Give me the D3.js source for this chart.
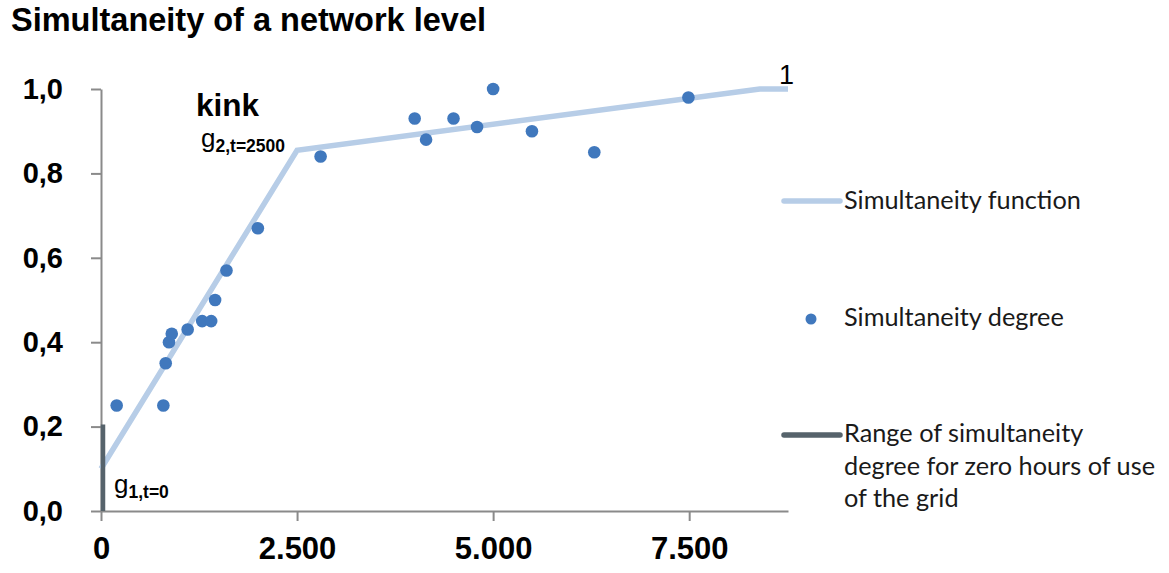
<!DOCTYPE html>
<html><head><meta charset="utf-8">
<script src="https://cdn.jsdelivr.net/npm/d3@7"></script>
<style>
body{margin:0;background:#fff;}
svg{display:block;}
</style></head>
<body>
<svg id="chart" width="1169" height="573"></svg>
<script>
// ---- data ----
const hoursOfUse = [200, 795, 825, 867, 902, 1105, 1290, 1405, 1455, 1600, 2000, 2800, 4000, 4145, 4495, 4795, 5000, 5495, 6290, 7490];
const simultaneityDegree = [0.25, 0.25, 0.35, 0.40, 0.42, 0.43, 0.45, 0.45, 0.50, 0.57, 0.67, 0.84, 0.93, 0.88, 0.93, 0.91, 1.00, 0.90, 0.85, 0.98];
const functionHours = [0, 2500, 8400, 8760];
const functionValues = [0.10, 0.855, 1.0, 1.0];
const zeroRange = [0, 0.205];
const xTicks = [0, 2500, 5000, 7500];
const yTicks = [0, 0.2, 0.4, 0.6, 0.8, 1.0];
const legendLabels = ["Simultaneity function", "Simultaneity degree", "Range of simultaneity|degree for zero hours of use|of the grid"];
const titleText = "Simultaneity of a network level";

const locale = d3.formatLocale({decimal: ",", thousands: ".", grouping: [3], currency: ["", "€"]});
const svg = d3.select("#chart");

const x = d3.scaleLinear().domain([0, 8760]).range([101, 788]);
const y = d3.scaleLinear().domain([0, 1]).range([511, 89]);

const axisColor = "#8a8a8a";
const lineColor = "#b7cde7";
const dotColor = "#4078bd";
const rangeColor = "#56636b";

// title
svg.append("text").attr("x", 11).attr("y", 31)
  .attr("font-family", "Liberation Sans, Arial, sans-serif").attr("font-weight", "bold")
  .attr("font-size", 32.5).attr("fill", "#000").text(titleText);

// y axis
const yAxis = svg.append("g").attr("transform", `translate(${x(0)},0)`)
  .call(d3.axisLeft(y).tickValues(yTicks).tickFormat(locale.format(".1f")).tickSize(10).tickSizeOuter(0).tickPadding(28));
// x axis
const xAxis = svg.append("g").attr("transform", `translate(0,${y(0)})`)
  .call(d3.axisBottom(x).tickValues(xTicks).tickFormat(locale.format(",")).tickSize(10).tickSizeOuter(0).tickPadding(16));

[yAxis, xAxis].forEach(g => {
  g.select(".domain").attr("stroke", axisColor).attr("stroke-width", 2);
  g.selectAll(".tick line").attr("stroke", axisColor).attr("stroke-width", 2);
  g.selectAll(".tick text").attr("fill", "#000")
    .attr("font-family", "Liberation Sans, Arial, sans-serif").attr("font-weight", "bold").attr("font-size", 31);
});
yAxis.selectAll(".tick text").attr("font-size", 29);

// simultaneity function line
const fnData = functionHours.map((h, i) => [h, functionValues[i]]);
svg.append("path").datum(fnData)
  .attr("d", d3.line().x(d => x(d[0])).y(d => y(d[1])))
  .attr("fill", "none").attr("stroke", lineColor).attr("stroke-width", 5.5).attr("stroke-linejoin", "miter");

// zero-hours range bar
svg.append("line").attr("x1", x(0) + 2).attr("x2", x(0) + 2)
  .attr("y1", y(zeroRange[0])).attr("y2", y(zeroRange[1]))
  .attr("stroke", rangeColor).attr("stroke-width", 4.5);

// points
svg.append("g").selectAll("circle").data(hoursOfUse.map((h, i) => [h, simultaneityDegree[i]]))
  .join("circle").attr("cx", d => x(d[0])).attr("cy", d => y(d[1])).attr("r", 6.3).attr("fill", dotColor);

// annotations
const ann = svg.append("g").attr("font-family", "Liberation Sans, Arial, sans-serif").attr("fill", "#000");
ann.append("text").attr("x", 196).attr("y", 116).attr("font-size", 31.5).attr("font-weight", "bold").text("kink");
const g2 = ann.append("text").attr("x", 201).attr("y", 147).attr("font-size", 26);
g2.append("tspan").text("g");
g2.append("tspan").attr("dy", 5).attr("font-size", 17.5).attr("font-weight", "bold").text("2,t=2500");
const g1 = ann.append("text").attr("x", 114).attr("y", 493).attr("font-size", 26);
g1.append("tspan").text("g");
g1.append("tspan").attr("dy", 5).attr("font-size", 17.5).attr("font-weight", "bold").text("1,t=0");
ann.append("text").attr("x", 779).attr("y", 84).attr("font-size", 27).text("1");

// legend
const leg = svg.append("g").attr("font-family", "Lato, 'Open Sans', sans-serif").attr("font-size", 25.3).attr("fill", "#1a1a1a");
leg.append("line").attr("x1", 784).attr("x2", 840).attr("y1", 201).attr("y2", 201)
  .attr("stroke", lineColor).attr("stroke-width", 5.5).attr("stroke-linecap", "round");
leg.append("text").attr("x", 844).attr("y", 209).text(legendLabels[0]);
leg.append("circle").attr("cx", 811).attr("cy", 319).attr("r", 5.5).attr("fill", dotColor);
leg.append("text").attr("x", 844).attr("y", 326).text(legendLabels[1]);
leg.append("line").attr("x1", 784).attr("x2", 840).attr("y1", 435).attr("y2", 435)
  .attr("stroke", rangeColor).attr("stroke-width", 5.5).attr("stroke-linecap", "round");
legendLabels[2].split("|").forEach((t, i) => {
  leg.append("text").attr("x", 844).attr("y", 442 + i * 32.5).text(t);
});
</script>
</body></html>
